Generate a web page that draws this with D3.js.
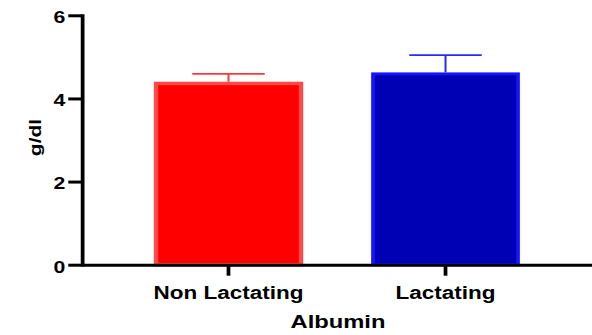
<!DOCTYPE html>
<html>
<head>
<meta charset="utf-8">
<script src="https://cdn.jsdelivr.net/npm/d3@7/dist/d3.min.js"></script>
<style>
  html, body { margin: 0; padding: 0; background: #fff; }
  svg { display: block; }
  text { font-family: "Liberation Sans", Arial, sans-serif; font-weight: bold; fill: #000; }
</style>
</head>
<body>
<svg id="chart" width="592" height="335"></svg>
<script>
// ---- data ----
const categories = ["Non Lactating", "Lactating"];
const means = [4.36, 4.59];
const sems = [0.23, 0.45];
const yTicks = [0, 2, 4, 6];
const xTitle = "Albumin";
const yTitle = "g/dl";

// ---- styles ----
const fillColors = ["#FF0000", "#0000B4"];
const edgeColors = ["#FF4848", "#1414FF"];
const errColors = ["#FF3838", "#2A2AFF"];
const edgeWidths = [3.5, 3];

const W = 592, H = 335;
const sx = 1.25; // horizontal stretch of the original picture
const svg = d3.select("#chart");
const g = svg.append("g").attr("transform", `scale(${sx},1)`);

const x0 = 82 / sx, x1 = W / sx;
const y = d3.scaleLinear().domain([0, 6]).range([264.7, 15.3]);
const x = d3.scaleBand().domain(categories).range([x0, x1])
  .paddingInner(0.332).paddingOuter(0.341);

// bars
const data = categories.map((c, i) => ({ c, m: means[i], s: sems[i], i }));
g.selectAll("rect.bar").data(data).enter().append("rect")
  .attr("class", "bar")
  .attr("x", d => x(d.c))
  .attr("y", d => y(d.m))
  .attr("width", x.bandwidth())
  .attr("height", d => y(0) - y(d.m))
  .attr("fill", d => fillColors[d.i])
  .attr("stroke", d => edgeColors[d.i])
  .attr("stroke-width", d => edgeWidths[d.i]);

// error bars (upper only)
const eb = g.selectAll("g.err").data(data).enter().append("g").attr("class", "err");
eb.append("line")
  .attr("x1", d => x(d.c) + x.bandwidth() / 2)
  .attr("x2", d => x(d.c) + x.bandwidth() / 2)
  .attr("y1", d => y(d.m) - edgeWidths[d.i] / 2)
  .attr("y2", d => y(d.m + d.s))
  .attr("stroke", d => errColors[d.i])
  .attr("stroke-width", 1.6);
eb.append("line")
  .attr("x1", d => x(d.c) + x.bandwidth() / 4)
  .attr("x2", d => x(d.c) + x.bandwidth() * 3 / 4)
  .attr("y1", d => y(d.m + d.s))
  .attr("y2", d => y(d.m + d.s))
  .attr("stroke", d => errColors[d.i])
  .attr("stroke-width", 1.7);

// y axis
const yAxis = g.append("g").attr("transform", `translate(${x0},0)`)
  .call(d3.axisLeft(y).tickValues(yTicks).tickFormat(d3.format("d"))
    .tickSize(11).tickSizeOuter(0).tickPadding(2.4));
yAxis.select(".domain").attr("stroke", "#000").attr("stroke-width", 3)
  .attr("stroke-linecap", "square");
yAxis.selectAll(".tick line").attr("stroke", "#000").attr("stroke-width", 3);
yAxis.selectAll(".tick text").attr("font-size", 17).attr("dy", "0.43em")
  .attr("font-family", "Liberation Sans, Arial, sans-serif").attr("font-weight", "bold");

// x axis
const xAxis = g.append("g").attr("transform", `translate(0,${y(0)})`)
  .call(d3.axisBottom(x).tickSize(11).tickSizeOuter(0));
xAxis.select(".domain").attr("stroke", "#000").attr("stroke-width", 3);
xAxis.selectAll(".tick line").attr("stroke", "#000").attr("stroke-width", 3);
xAxis.selectAll(".tick text").attr("font-size", 18).attr("dy", null).attr("y", 34)
  .attr("font-family", "Liberation Sans, Arial, sans-serif").attr("font-weight", "bold");

// x title
g.append("text")
  .attr("x", 338 / sx).attr("y", 328)
  .attr("text-anchor", "middle")
  .attr("font-size", 19)
  .text(xTitle);

// y title (rotated)
svg.append("text")
  .attr("transform", "translate(40.5,137.5) scale(0.8,1) rotate(-90)")
  .attr("text-anchor", "middle")
  .attr("font-size", 21)
  .text(yTitle);
</script>
</body>
</html>
